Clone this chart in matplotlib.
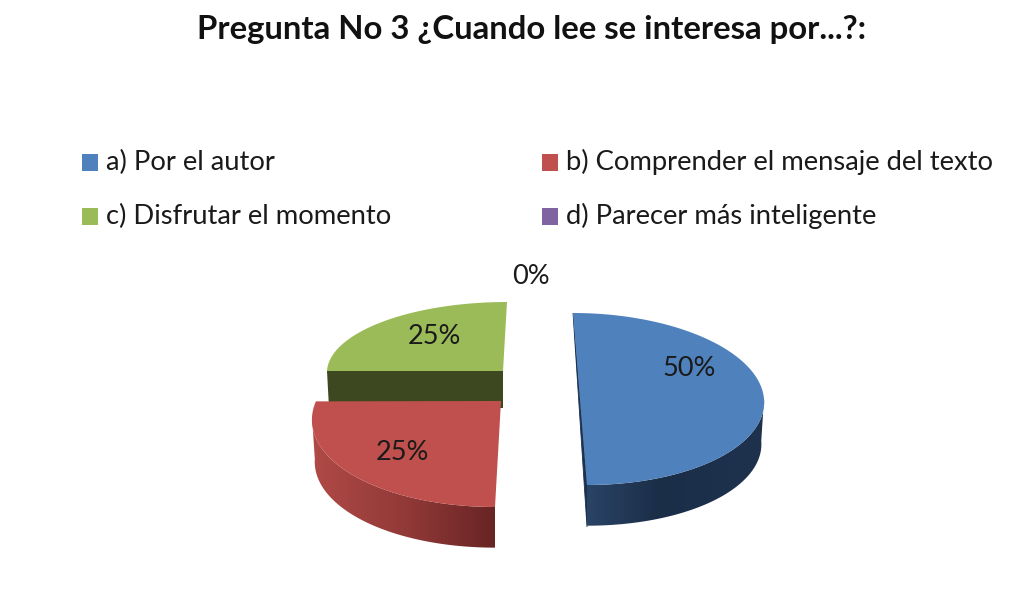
import numpy as np
import matplotlib
matplotlib.use("Agg")
import matplotlib.pyplot as plt
from matplotlib.patches import Rectangle, Polygon
from matplotlib.colors import LinearSegmentedColormap

title = "Pregunta No 3 ¿Cuando lee se interesa por...?:"
categories = ["a) Por el autor", "b) Comprender el mensaje del texto",
              "c) Disfrutar el momento", "d) Parecer más inteligente"]
values = [50, 25, 25, 0]

top_colors = ["#4F81BD", "#C0504D", "#9BBB59", "#8064A2"]
FONT = ["Lato", "DejaVu Sans"]
TEXT = "#1a1a1a"

# Per-slice perspective layout, in pixels of the figure
layout = [
    dict(cx=580, cy=399, a=184, b=86, sx=-7, apex=None, warp_end=0),
    dict(cx=501, cy=417, a=189, b=90, sx=6, apex=(501, 401), warp_end=10),
    dict(cx=503, cy=371, a=176, b=69, sx=4, apex=(503, 371), warp_end=0),
]
DEPTH = 42
label_pos = [(689, 369), (402, 452), (434, 337), (531, 276)]
legend_pos = [(82, 154), (542, 154), (82, 208), (542, 208)]

fig = plt.figure(figsize=(10.25, 6.09), dpi=100, facecolor="white")
ax = fig.add_axes([0, 0, 1, 1])
ax.set_xlim(0, 1025)
ax.set_ylim(609, 0)
ax.axis("off")


def arc(p, t0, t1, scale=1.0, dy=0.0, n=160):
    t = np.radians(np.linspace(t0, t1, n))
    x = p["cx"] + scale * p["a"] * np.cos(t) + p["sx"] * np.sin(t)
    y = p["cy"] + dy - scale * p["b"] * np.sin(t)
    return x, y


def gradient_wall(p, t0, t1, stops):
    xu, yu = arc(p, t0, t1)
    xl, yl = arc(p, t0, t1, scale=0.985, dy=DEPTH)
    xs, ys = np.r_[xu, xl[::-1]], np.r_[yu, yl[::-1]]
    cmap = LinearSegmentedColormap.from_list("wall", [(s, tuple(c / 255 for c in col)) for s, col in stops])
    img = ax.imshow(np.linspace(0, 1, 256)[None, :], cmap=cmap, aspect="auto", zorder=3,
                    extent=(xs.min(), xs.max(), ys.max(), ys.min()))
    clip = Polygon(np.c_[xs, ys], closed=True, transform=ax.transData, facecolor="none", edgecolor="none")
    ax.add_patch(clip)
    img.set_clip_path(clip)
    ax.set_xlim(0, 1025)
    ax.set_ylim(609, 0)


# Slice angles come from the values (clockwise from 12 o'clock)
starts = 90 - np.cumsum([0] + values[:-1]) * 3.6
ends = starts - np.array(values) * 3.6

# Green slice: back, with its dark cut face
p = layout[2]
t0, t1 = 360 + ends[2], 360 + starts[2]
ax.fill([327, 503, 503, 329], [371, 371, 408, 408], color="#3E4820", lw=0, zorder=1)
x, y = arc(p, t0, t1)
ax.fill(np.r_[x, p["apex"][0]], np.r_[y, p["apex"][1]], color=top_colors[2], lw=0, zorder=2)

# Red slice
p = layout[1]
gradient_wall(p, ends[1], starts[1],
              [(0.0, (176, 74, 70)), (0.5, (146, 58, 56)), (1.0, (104, 36, 36))])
x, y = arc(p, ends[1] - p["warp_end"], starts[1])
ax.fill(np.r_[x, p["apex"][0]], np.r_[y, p["apex"][1]], color=top_colors[1], lw=0, zorder=4)

# Blue slice
p = layout[0]
xb, yb = arc(p, starts[0], ends[0])
ax.fill([xb[0], xb[-1], xb[-1]], [yb[0], yb[-1], yb[-1] + DEPTH], color="#1B314F", lw=0.6, zorder=2)
mid = (starts[0] + ends[0]) / 2
gradient_wall(p, ends[0], mid,
              [(0.0, (42, 68, 102)), (0.4, (27, 46, 72)), (1.0, (30, 50, 78))])
ax.fill(xb, yb, color=top_colors[0], lw=0, zorder=4)

# Percentage labels
for v, (lx, ly) in zip(values, label_pos):
    ax.text(lx, ly, f"{v}%", ha="center", va="center", fontsize=19.5,
            family=FONT, color=TEXT, zorder=6)

# Legend
for cat, col, (lx, ly) in zip(categories, top_colors, legend_pos):
    ax.add_patch(Rectangle((lx, ly), 16, 17, facecolor=col, edgecolor="none", zorder=5))
    ax.text(lx + 24, ly + 8, cat, ha="left", va="center", fontsize=19.7,
            family=FONT, color=TEXT)

ax.text(532, 30, title, ha="center", va="center", fontsize=23.7, fontweight="bold",
        family=FONT, color="#111111")

fig.savefig("out.png", dpi=100, facecolor="white")
